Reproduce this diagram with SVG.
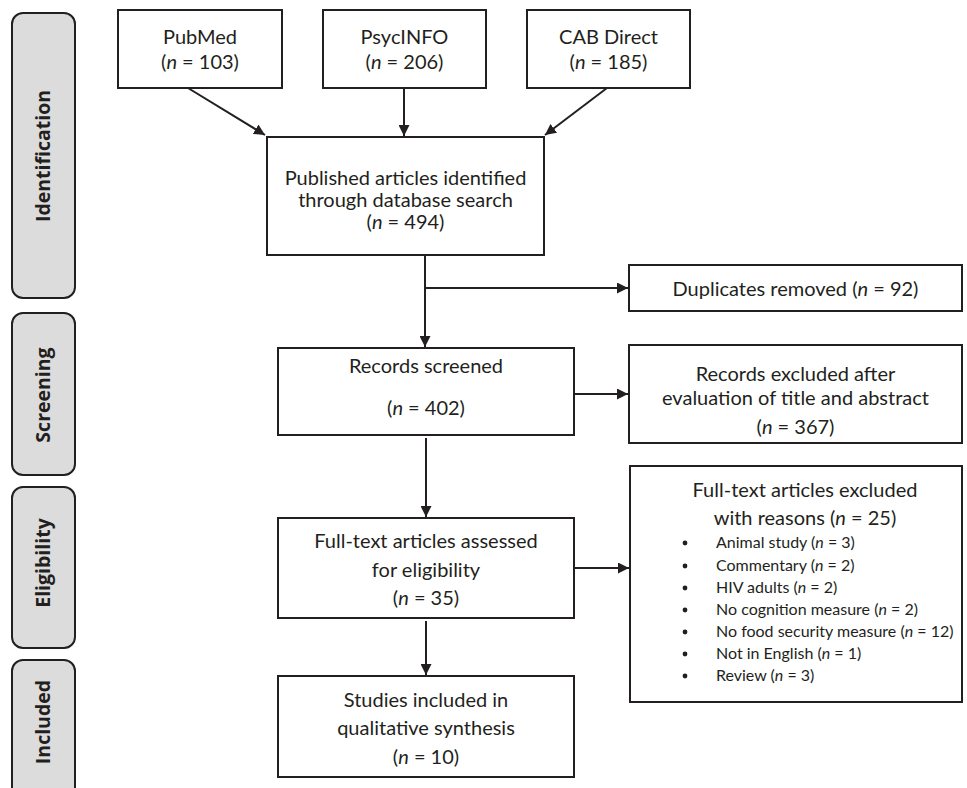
<svg xmlns="http://www.w3.org/2000/svg" width="967" height="788" viewBox="0 0 967 788">
<style>
.phase{fill:#dcdcdc;stroke:#231f20;stroke-width:2}
.plabel{font-family:"Open Sans","Liberation Sans",sans-serif;font-weight:bold;font-size:19.5px;fill:#231f20;text-anchor:middle}
.box{fill:#fff;stroke:#231f20;stroke-width:2}
.t{font-family:Lato,"Liberation Sans",sans-serif;font-size:20px;fill:#231f20;text-anchor:middle}
.s{font-family:Lato,"Liberation Sans",sans-serif;font-size:16px;fill:#231f20}
.c{fill:none;stroke:#231f20;stroke-width:2}
</style>
<defs>
<marker id="ah" viewBox="0 0 10 10" refX="10" refY="5" markerWidth="5.5" markerHeight="5.5" markerUnits="strokeWidth" orient="auto">
<path d="M0,0 L10,5 L0,10 z" fill="#231f20"/>
</marker>
</defs>
<rect width="967" height="788" fill="#fff"/>
<g id="phase-identification"><rect class="phase" x="12" y="13" width="63" height="285" rx="11"/><text class="plabel" transform="translate(50,156) rotate(-90)">Identification</text></g>
<g id="phase-screening"><rect class="phase" x="12" y="313" width="63" height="162" rx="11"/><text class="plabel" transform="translate(50,395) rotate(-90)">Screening</text></g>
<g id="phase-eligibility"><rect class="phase" x="12" y="487" width="63" height="161" rx="11"/><text class="plabel" transform="translate(50,563) rotate(-90)">Eligibility</text></g>
<g id="phase-included"><rect class="phase" x="12" y="660" width="63" height="140" rx="11"/><text class="plabel" transform="translate(50,722) rotate(-90)">Included</text></g>

<g id="pubmed"><rect class="box" x="118" y="10" width="164" height="78"/><text class="t" x="200" y="44">PubMed</text><text class="t" x="200" y="69">(<tspan font-style="italic">n</tspan> = 103)</text></g>
<g id="psycinfo"><rect class="box" x="323" y="10" width="163" height="78"/><text class="t" x="404.5" y="44">PsycINFO</text><text class="t" x="404.5" y="69">(<tspan font-style="italic">n</tspan> = 206)</text></g>
<g id="cabdirect"><rect class="box" x="527" y="10" width="163" height="78"/><text class="t" x="608.5" y="44">CAB Direct</text><text class="t" x="608.5" y="69">(<tspan font-style="italic">n</tspan> = 185)</text></g>
<g id="published"><rect class="box" x="267" y="137" width="277" height="118"/><text class="t" x="405.5" y="185">Published articles identified</text><text class="t" x="405.5" y="207">through database search</text><text class="t" x="405.5" y="229">(<tspan font-style="italic">n</tspan> = 494)</text></g>
<g id="duplicates"><rect class="box" x="629" y="265" width="333" height="46"/><text class="t" x="795.5" y="296">Duplicates removed (<tspan font-style="italic">n</tspan> = 92)</text></g>
<g id="screened"><rect class="box" x="278" y="348" width="296" height="87"/><text class="t" x="426" y="373">Records screened</text><text class="t" x="426" y="415">(<tspan font-style="italic">n</tspan> = 402)</text></g>
<g id="excluded-title"><rect class="box" x="629" y="345" width="333" height="98"/><text class="t" x="795.5" y="381">Records excluded after</text><text class="t" x="795.5" y="405">evaluation of title and abstract</text><text class="t" x="795.5" y="434">(<tspan font-style="italic">n</tspan> = 367)</text></g>
<g id="fulltext"><rect class="box" x="278" y="518" width="296" height="100"/><text class="t" x="426" y="548">Full-text articles assessed</text><text class="t" x="426" y="577">for eligibility</text><text class="t" x="426" y="605">(<tspan font-style="italic">n</tspan> = 35)</text></g>
<g id="excluded-fulltext"><rect class="box" x="630" y="466" width="332" height="236"/>
<text class="t" x="805" y="497">Full-text articles excluded</text>
<text class="t" x="805" y="525">with reasons (<tspan font-style="italic">n</tspan> = 25)</text>
<g fill="#231f20"><circle cx="685" cy="543" r="2.4"/><circle cx="685" cy="566" r="2.4"/><circle cx="685" cy="588" r="2.4"/><circle cx="685" cy="610" r="2.4"/><circle cx="685" cy="632" r="2.4"/><circle cx="685" cy="654" r="2.4"/><circle cx="685" cy="676" r="2.4"/></g>
<text class="s" x="716" y="548">Animal study (<tspan font-style="italic">n</tspan> = 3)</text>
<text class="s" x="716" y="571">Commentary (<tspan font-style="italic">n</tspan> = 2)</text>
<text class="s" x="716" y="593">HIV adults (<tspan font-style="italic">n</tspan> = 2)</text>
<text class="s" x="716" y="615">No cognition measure (<tspan font-style="italic">n</tspan> = 2)</text>
<text class="s" x="716" y="637">No food security measure (<tspan font-style="italic">n</tspan> = 12)</text>
<text class="s" x="716" y="659">Not in English (<tspan font-style="italic">n</tspan> = 1)</text>
<text class="s" x="716" y="681">Review (<tspan font-style="italic">n</tspan> = 3)</text>
</g>
<g id="included"><rect class="box" x="278" y="676" width="296" height="101"/><text class="t" x="426" y="707">Studies included in</text><text class="t" x="426" y="735">qualitative synthesis</text><text class="t" x="426" y="764">(<tspan font-style="italic">n</tspan> = 10)</text></g>

<g id="connectors">
<line class="c" x1="188" y1="88" x2="265" y2="135" marker-end="url(#ah)"/>
<line class="c" x1="404" y1="88" x2="404" y2="136" marker-end="url(#ah)"/>
<line class="c" x1="607" y1="88" x2="545" y2="135" marker-end="url(#ah)"/>
<line class="c" x1="425" y1="255" x2="425" y2="347" marker-end="url(#ah)"/>
<line class="c" x1="425" y1="288" x2="628" y2="288" marker-end="url(#ah)"/>
<line class="c" x1="574" y1="394" x2="628" y2="394" marker-end="url(#ah)"/>
<line class="c" x1="426" y1="438" x2="426" y2="517" marker-end="url(#ah)"/>
<line class="c" x1="574" y1="568" x2="629" y2="568" marker-end="url(#ah)"/>
<line class="c" x1="426" y1="621" x2="426" y2="675" marker-end="url(#ah)"/>
</g>
</svg>
